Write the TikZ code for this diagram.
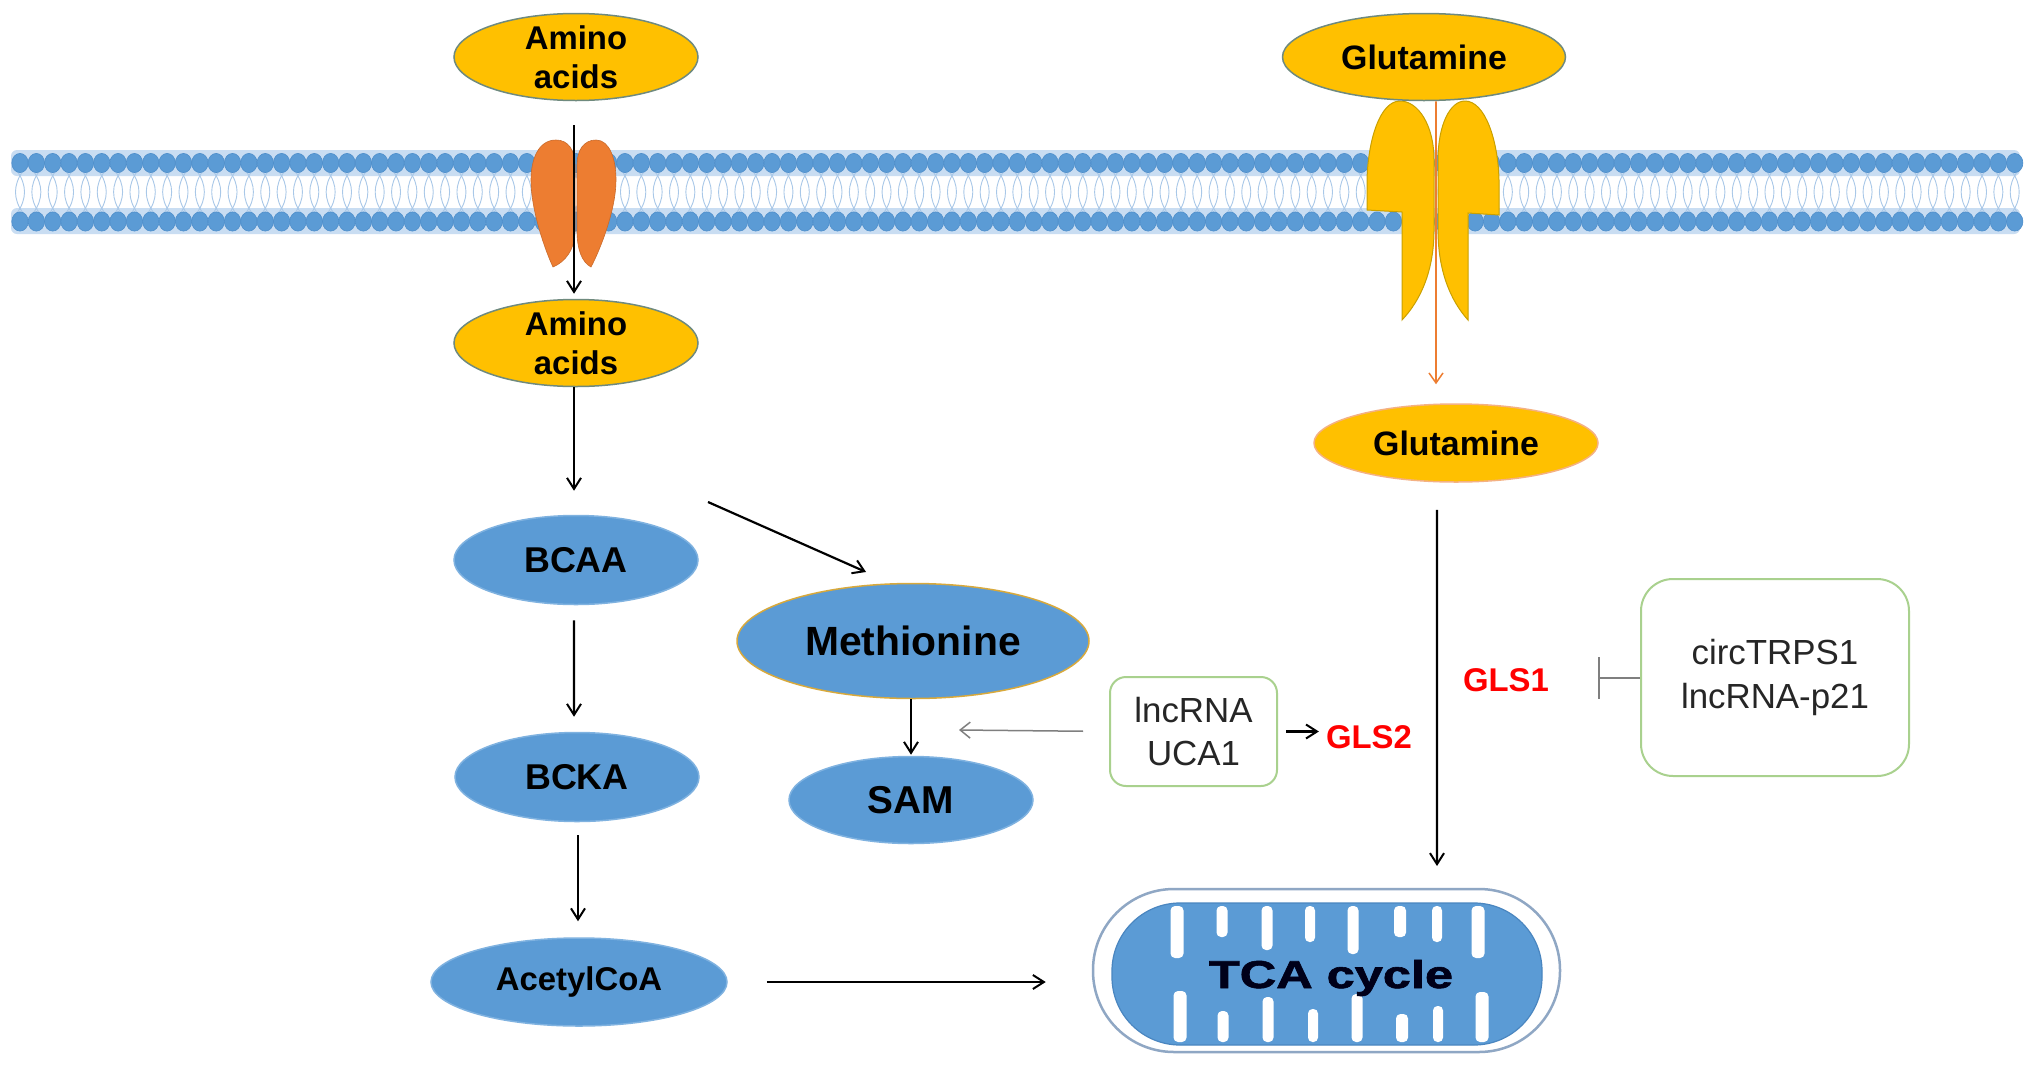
\documentclass[tikz,border=0pt]{standalone}
\usepackage{fontspec}
\setmainfont{Liberation Sans}
\newfontfamily\heavyfont{Liberation Sans Bold}[FakeBold=1.5]
\usetikzlibrary{arrows.meta,shapes.geometric}
\definecolor{gold}{HTML}{FFC000}
\definecolor{goldedge}{HTML}{C9A000}
\definecolor{aaedge}{HTML}{6F8A7E}
\definecolor{orng}{HTML}{ED7D31}
\definecolor{nblue}{HTML}{5B9BD5}
\definecolor{nblueedge}{HTML}{7FB2E0}
\definecolor{nbluedark}{HTML}{4A86C0}
\definecolor{methedge}{HTML}{D8A93C}
\definecolor{glutedge}{HTML}{F4B183}
\definecolor{boxgreen}{HTML}{A9D18E}
\definecolor{txtgray}{HTML}{262626}
\definecolor{tailc}{HTML}{A9C8E8}
\definecolor{headedge}{HTML}{4F8FCB}
\definecolor{glowc}{HTML}{C9DDF2}
\definecolor{mitoedge}{HTML}{8FA7C4}
\definecolor{inhgray}{HTML}{7F7F7F}
\definecolor{glsred}{HTML}{FF0000}
\begin{document}
\begin{tikzpicture}[x=1bp,y=-1bp,
  yel/.style={ellipse, fill=gold, draw=aaedge, line width=1.5bp, inner sep=0pt, align=center,
              font=\fontsize{33}{39.5}\selectfont\bfseries},
  blu/.style={ellipse, fill=nblue, draw=nblueedge, line width=1.5bp, inner sep=0pt,
              font=\fontsize{36}{40}\selectfont\bfseries},
  gbox/.style={rectangle, draw=boxgreen, line width=2bp, fill=white, align=center,
               inner sep=0pt, text=txtgray, font=\fontsize{35}{43.5}\selectfont},
  gls/.style={inner sep=0pt, text=glsred, font=\fontsize{33}{36}\selectfont\bfseries},
  arr/.style={-{Straight Barb[length=11bp,width=14bp,line width=2bp]}, line width=2.2bp, black},
  grayarr/.style={-{Straight Barb[length=10bp,width=16bp,line width=1.5bp]}, line width=1.5bp, inhgray},
  orarr/.style={-{Straight Barb[length=10bp,width=14bp,line width=1.5bp]}, line width=1.6bp, orng},
  inh/.style={-{Bar[width=42bp,line width=2bp]}, line width=2bp, inhgray},
  tail/.style={draw=tailc, line width=0.9bp},
  head/.style={fill=nblue, draw=headedge, line width=0.6bp},
  lobeO/.style={fill=orng, draw=orng!85!black, line width=0.6bp},
  lobeY/.style={fill=gold, draw=goldedge, line width=1bp}
]
\fill[white] (0,0) rectangle (2032,1068);
\useasboundingbox (0,0) rectangle (2032,1068);

% ---------------- membrane ----------------
\fill[glowc, rounded corners=6bp] (11,150) rectangle (2020,176);
\fill[glowc, rounded corners=6bp] (11,208) rectangle (2020,234);
\foreach \i in {0,...,122}{
  \pgfmathsetmacro\xx{20+16.35*\i}
  \draw[tail] (\xx-3,171) .. controls (\xx+7,185) and (\xx+7,199) .. (\xx-3,213);
  \draw[tail] (\xx+3,171) .. controls (\xx-7,185) and (\xx-7,199) .. (\xx+3,213);
}
\foreach \i in {0,...,122}{
  \pgfmathsetmacro\xx{20+16.35*\i}
  \path[head] (\xx,163) ellipse [x radius=8.2, y radius=9.6];
  \path[head] (\xx,221.5) ellipse [x radius=8.2, y radius=9.6];
}

% ---------------- amino acid transporter ----------------
\path[lobeO] (556,140) .. controls (538,140) and (531,160) .. (531,180)
   .. controls (531,210) and (545,250) .. (553,267)
   .. controls (565,262) and (575,250) .. (575,230) -- (575,165)
   .. controls (575,150) and (568,140) .. (556,140) -- cycle;
\path[lobeO] (596,140) .. controls (610,140) and (616,160) .. (616,180)
   .. controls (616,210) and (600,250) .. (591,267)
   .. controls (582,262) and (577,250) .. (577,230) -- (577,165)
   .. controls (577,150) and (584,140) .. (596,140) -- cycle;

% ---------------- glutamine transporter ----------------
\path[lobeY] (1400,101) .. controls (1380,101) and (1368,140) .. (1367,180) -- (1367,210)
   -- (1402,212) -- (1402,320) .. controls (1421,300) and (1434,270) .. (1434,230)
   -- (1434,160) .. controls (1434,125) and (1418,101) .. (1400,101) -- cycle;
\path[lobeY] (1465,101) .. controls (1485,101) and (1498,140) .. (1499,180) -- (1499,215)
   -- (1468,213) -- (1468,320) .. controls (1450,300) and (1438,270) .. (1438,230)
   -- (1438,160) .. controls (1438,125) and (1450,101) .. (1465,101) -- cycle;

% ---------------- nodes ----------------
\node[yel, inner ysep=-12bp, minimum width=244bp, minimum height=87bp] (aa1) at (576,57) {Amino\\acids};
\node[yel, inner ysep=-12bp, minimum width=244bp, minimum height=87bp] (aa2) at (576,343) {Amino\\acids};
\node[yel, minimum width=283bp, minimum height=87bp, font=\fontsize{34}{40}\selectfont\bfseries] (glu1) at (1424,57) {Glutamine};
\node[yel, draw=glutedge, minimum width=284bp, minimum height=78bp, font=\fontsize{34}{40}\selectfont\bfseries] (glu2) at (1456,443) {Glutamine};

\node[blu, minimum width=244bp, minimum height=89bp] (bcaa) at (576,560) {BCAA};
\node[blu, minimum width=244bp, minimum height=89bp] (bcka) at (577,777) {BCKA};
\node[blu, minimum width=296bp, minimum height=88bp, font=\fontsize{33}{40}\selectfont\bfseries] (acoa) at (579,982) {AcetylCoA};
\node[blu, draw=methedge, minimum width=352bp, minimum height=115bp, font=\fontsize{41}{46}\selectfont\bfseries] (meth) at (913,641) {Methionine};
\node[blu, minimum width=244bp, minimum height=87bp, font=\fontsize{39}{44}\selectfont\bfseries] (sam) at (911,800) {SAM};

\node[gbox, rounded corners=16bp, minimum width=167bp, minimum height=109bp] (uca) at (1193.5,731.5) {lncRNA\\UCA1};
\node[gbox, rounded corners=32bp, minimum width=268bp, minimum height=197bp] (circ) at (1775,677.5) {circTRPS1\\lncRNA-p21};

\node[gls] (gls2) at (1369,737) {GLS2};
\node[gls] (gls1) at (1506,680) {GLS1};

% ---------------- mitochondrion ----------------
\node[rectangle, minimum width=467bp, minimum height=163bp, rounded corners=81bp,
      draw=mitoedge, line width=2.5bp, fill=white] (tca) at (1326.5,970.5) {};
\node[rectangle, minimum width=430bp, minimum height=142bp, rounded corners=68bp,
      draw=nbluedark, line width=1.2bp, fill=nblue] (tcain) at (1327,974) {};
\begin{scope}
  \clip[rounded corners=68bp] (1112,903) rectangle (1542,1045);
  \foreach \cx/\ya/\yb/\rx in {1177/906/958/6.5, 1222/906/937/5.5, 1267/906/950/5.5, 1310/906/942/5,
                              1353/906/954/5.5, 1400/906/937/6, 1437/906/942/5, 1478/906/958/6.5,
                              1180/991/1042/6.5, 1223/1011/1042/5.5, 1268/997/1042/5.5, 1313/1009/1042/5,
                              1357/994/1042/5.5, 1402/1014/1042/6, 1438/1006/1042/5, 1482/992/1042/6.5}{
    \fill[white, rounded corners=4.5bp] (\cx-\rx,\ya) rectangle (\cx+\rx,\yb);
  }
\end{scope}
\node[anchor=base, inner sep=0pt, text=black!90!blue, font=\fontsize{39}{44}\heavyfont] (tcat) at (1331,988)
  {\scalebox{1.3}[1]{TCA cycle}};

% ---------------- connectors ----------------
\coordinate (m1) at (708,502);
\coordinate (m2) at (866,572);
\coordinate (g1) at (959,730);
\coordinate (t1) at (1437,866);
\coordinate (bar) at (1598,677.5);

\draw[arr, shorten <=24bp, shorten >=5bp] ([xshift=-2bp]aa1.south) -- ([xshift=-2bp]aa2.north);
\draw[arr, shorten >=24bp] ([xshift=-2bp]aa2.south) -- ([xshift=-2bp]bcaa.north);
\draw[arr, shorten <=15bp, shorten >=15bp] ([xshift=-2bp]bcaa.south) -- ([xshift=-3bp]bcka.north);
\draw[arr, shorten <=13bp, shorten >=16bp] ([xshift=1bp]bcka.south) -- ([xshift=-1bp]acoa.north);
\draw[arr] (m1) -- (m2);
\draw[arr, shorten >=1bp] (meth.south -| sam.north) -- (sam.north);
\draw[arr, shorten <=39bp, shorten >=46bp] (acoa.east) -- (acoa.east -| tca.west);
\draw[orarr, shorten >=19bp] ([xshift=12bp]glu1.south) -- ([xshift=-20bp]glu2.north);
\draw[arr, shorten <=27bp] ([xshift=-19bp]glu2.south) -- (t1);
\draw[grayarr, shorten <=26bp] (uca.west) -- (g1);
\draw[arr, line width=2.4bp, shorten <=8bp, shorten >=7bp] (uca.east) -- (uca.east -| gls2.west);
\draw[inh] (circ.west) -- (bar);
\end{tikzpicture}
\end{document}
